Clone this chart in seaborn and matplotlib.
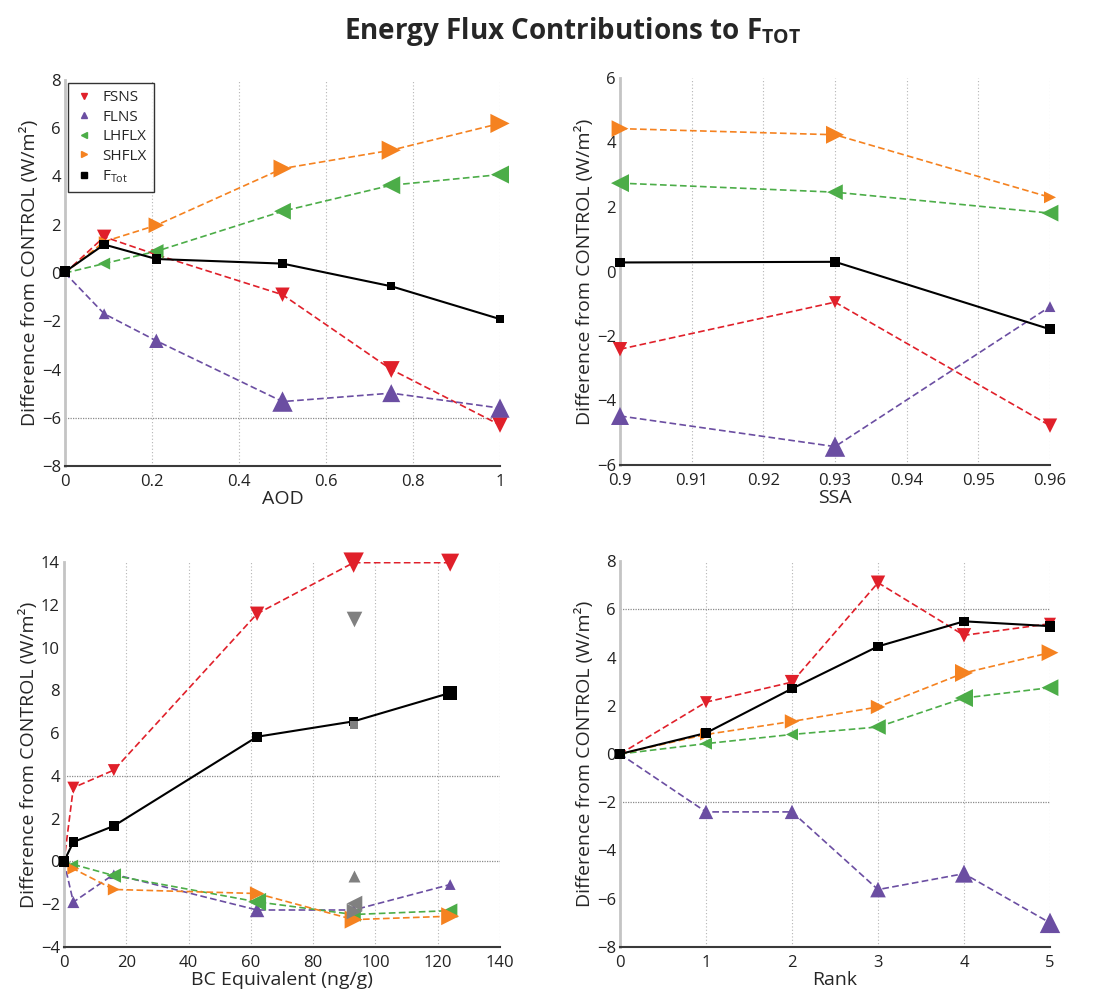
import numpy as np
import matplotlib
matplotlib.use("Agg")
import matplotlib.pyplot as plt
from matplotlib.lines import Line2D
import seaborn as sns

sns.set_style("white")
plt.rcParams["font.family"] = ["Open Sans", "DejaVu Sans"]
plt.rcParams["mathtext.fontset"] = "custom"
plt.rcParams["mathtext.rm"] = "Open Sans"
plt.rcParams["mathtext.bf"] = "Open Sans:bold"

series = ["FSNS", "FLNS", "LHFLX", "SHFLX", "FTOT"]
legend_labels = ["FSNS", "FLNS", "LHFLX", "SHFLX", r"F$_{\mathrm{Tot}}$"]
colors = {"FSNS": "#e0202a", "FLNS": "#6b4ea2", "LHFLX": "#4cad48",
          "SHFLX": "#f58220", "FTOT": "black"}
markers = {"FSNS": "v", "FLNS": "^", "LHFLX": "<", "SHFLX": ">", "FTOT": "s"}

# AOD panel
aod = [0, 0.09, 0.21, 0.5, 0.75, 1.0]
aod_fsns = [0, 1.5, 0.76, -0.9, -4.0, -6.3]
aod_flns = [0, -1.69, -2.81, -5.33, -4.98, -5.6]
aod_lhflx = [0, 0.39, 0.9, 2.56, 3.64, 4.08]
aod_shflx = [0, 1.3, 1.98, 4.33, 5.09, 6.2]
aod_ftot = [0.05, 1.18, 0.58, 0.39, -0.55, -1.91]

# SSA panel
ssa = [0.90, 0.93, 0.96]
ssa_fsns = [-2.41, -0.95, -4.78]
ssa_flns = [-4.48, -5.43, -1.09]
ssa_lhflx = [2.74, 2.46, 1.81]
ssa_shflx = [4.43, 4.24, 2.30]
ssa_ftot = [0.28, 0.30, -1.79]

# BC equivalent panel
bc = [0, 3, 16, 62, 93, 124]
bc_fsns = [0, 3.45, 4.27, 11.58, 13.97, 13.97]
bc_flns = [0, -1.9, -0.6, -2.27, -2.27, -1.08]
bc_lhflx = [0, -0.14, -0.66, -1.89, -2.48, -2.3]
bc_shflx = [0, -0.34, -1.31, -1.5, -2.72, -2.56]
bc_ftot = [0, 0.91, 1.66, 5.83, 6.55, 7.88]
# grey markers at BC = 93
bc_alt_x = 93
bc_alt = {"FSNS": 11.34, "FTOT": 6.38, "FLNS": -0.66, "LHFLX": -1.95, "SHFLX": -2.3}

# Rank panel
rank = [0, 1, 2, 3, 4, 5]
rank_fsns = [0, 2.15, 2.98, 7.1, 4.92, 5.4]
rank_flns = [0, -2.4, -2.4, -5.62, -4.96, -7.0]
rank_lhflx = [0, 0.43, 0.81, 1.12, 2.32, 2.75]
rank_shflx = [0, 0.81, 1.35, 1.95, 3.36, 4.2]
rank_ftot = [0, 0.87, 2.71, 4.46, 5.5, 5.3]

# marker widths in pixels, per point
aod_msize = {"FSNS": [6, 12, 9, 12, 14, 13], "FLNS": [5, 9, 12, 17, 15, 16],
             "LHFLX": [6, 10, 12, 14, 15, 15], "SHFLX": [6, 9, 13, 15, 16, 16],
             "FTOT": [9, 8, 8, 8, 7, 7]}
ssa_msize = {"FSNS": [12, 10, 12], "FLNS": [15, 17, 9], "LHFLX": [15, 13, 14],
             "SHFLX": [14, 15, 10], "FTOT": [8, 8, 8]}
bc_msize = {"FSNS": [6, 10, 10, 12, 17, 15], "FLNS": [5, 10, 8, 12, 10, 9],
            "LHFLX": [6, 8, 12, 15, 12, 12], "SHFLX": [6, 10, 10, 12, 15, 15],
            "FTOT": [9, 8, 8, 8, 7, 12]}
bc_alt_msize = {"FSNS": 13, "FTOT": 7, "FLNS": 10, "LHFLX": 13, "SHFLX": 13}
rank_msize = {"FSNS": [6, 10, 12, 12, 12, 10], "FLNS": [5, 12, 12, 13, 15, 17],
              "LHFLX": [6, 10, 10, 13, 15, 14], "SHFLX": [6, 10, 12, 12, 15, 14],
              "FTOT": [9, 8, 8, 8, 8, 9]}

panels = [
    dict(x=aod, y={"FSNS": aod_fsns, "FLNS": aod_flns, "LHFLX": aod_lhflx,
                   "SHFLX": aod_shflx, "FTOT": aod_ftot}, ms=aod_msize,
         pos=[65, 80, 500, 466], xlim=(0, 1), ylim=(-8, 8),
         xticks=[0, 0.2, 0.4, 0.6, 0.8, 1.0], xticklabels=["0", "0.2", "0.4", "0.6", "0.8", "1"],
         yticks=np.arange(-8, 9, 2), hlines=[-6], xlabel="AOD", legend=True),
    dict(x=ssa, y={"FSNS": ssa_fsns, "FLNS": ssa_flns, "LHFLX": ssa_lhflx,
                   "SHFLX": ssa_shflx, "FTOT": ssa_ftot}, ms=ssa_msize,
         pos=[620, 78, 1050, 465], xlim=(0.9, 0.96), ylim=(-6, 6),
         xticks=[0.9, 0.91, 0.92, 0.93, 0.94, 0.95, 0.96],
         xticklabels=["0.9", "0.91", "0.92", "0.93", "0.94", "0.95", "0.96"],
         yticks=np.arange(-6, 7, 2), hlines=[], xlabel="SSA", legend=False),
    dict(x=bc, y={"FSNS": bc_fsns, "FLNS": bc_flns, "LHFLX": bc_lhflx,
                  "SHFLX": bc_shflx, "FTOT": bc_ftot}, ms=bc_msize,
         pos=[64, 562, 500, 947], xlim=(0, 140), ylim=(-4, 14),
         xticks=np.arange(0, 141, 20), xticklabels=[str(v) for v in range(0, 141, 20)],
         yticks=np.arange(-4, 15, 2), hlines=[0, 4], xlabel="BC Equivalent (ng/g)", legend=False),
    dict(x=rank, y={"FSNS": rank_fsns, "FLNS": rank_flns, "LHFLX": rank_lhflx,
                    "SHFLX": rank_shflx, "FTOT": rank_ftot}, ms=rank_msize,
         pos=[620, 561, 1050, 947], xlim=(0, 5), ylim=(-8, 8),
         xticks=range(0, 6), xticklabels=[str(v) for v in range(0, 6)],
         yticks=np.arange(-8, 9, 2), hlines=[6, -2], xlabel="Rank", legend=False),
]

W, H = 1109, 991
fig = plt.figure(figsize=(W / 100, H / 100), dpi=100)

px2pt = 0.72 * 1.2

for i, p in enumerate(panels):
    l, t, r, b = p["pos"]
    ax = fig.add_axes([l / W, 1 - b / H, (r - l) / W, (b - t) / H])
    for xv in p["xticks"]:
        ax.axvline(xv, color="#b5b5b5", lw=0.8, ls=(0, (1, 2)), zorder=0)
    for yv in p["hlines"]:
        ax.axhline(yv, color="#8a8a8a", lw=0.9, ls=(0, (1, 1)), zorder=0)
    for k in series:
        ls = "-" if k == "FTOT" else (0, (4, 2))
        lw = 1.5 if k == "FTOT" else 1.2
        sns.lineplot(x=p["x"], y=p["y"][k], color=colors[k], linestyle=ls, lw=lw,
                     sort=False, ax=ax, zorder=2)
        sizes = [(m * px2pt) ** 2 for m in p["ms"][k]]
        ax.scatter(p["x"], p["y"][k], s=sizes, marker=markers[k], color=colors[k],
                   linewidths=0, zorder=3, clip_on=False)
    if i == 2:
        for k in series:
            ax.scatter([bc_alt_x], [bc_alt[k]], s=(bc_alt_msize[k] * px2pt) ** 2,
                       marker=markers[k], color="#808080", linewidths=0, zorder=4)
    ax.set_xlim(*p["xlim"])
    ax.set_ylim(*p["ylim"])
    ax.set_xticks(p["xticks"])
    ax.set_xticklabels(p["xticklabels"])
    ax.set_yticks(p["yticks"])
    ax.tick_params(length=0, labelsize=12, colors="#222222")
    ax.tick_params(axis="x", pad=6)
    ax.tick_params(axis="y", pad=3)
    for s in ["top", "right"]:
        ax.spines[s].set_visible(False)
    ax.spines["left"].set_color("#c4c4c4")
    ax.spines["left"].set_linewidth(2)
    ax.spines["bottom"].set_color("#3a3a3a")
    ax.spines["bottom"].set_linewidth(1.5)
    ax.set_xlabel(p["xlabel"], fontsize=14, labelpad=0)
    ax.set_ylabel("Difference from CONTROL (W/m²)", fontsize=14, labelpad=2)
    if p["legend"]:
        handles = [Line2D([], [], ls="none", marker=markers[k], color=colors[k],
                          markersize=4) for k in series]
        leg = ax.legend(handles, legend_labels, loc="upper left", fontsize=11,
                        frameon=True, fancybox=False, edgecolor="black",
                        borderaxespad=0.2, handletextpad=0.6, labelspacing=0.3,
                        handlelength=1.2, borderpad=0.45)
        leg.get_frame().set_linewidth(1.0)

fig.text(0.516, 0.985, r"Energy Flux Contributions to F$_{\mathbf{TOT}}$",
         ha="center", va="top", fontsize=20, fontweight="bold")

plt.savefig("out.png", dpi=100)
plt.close()
